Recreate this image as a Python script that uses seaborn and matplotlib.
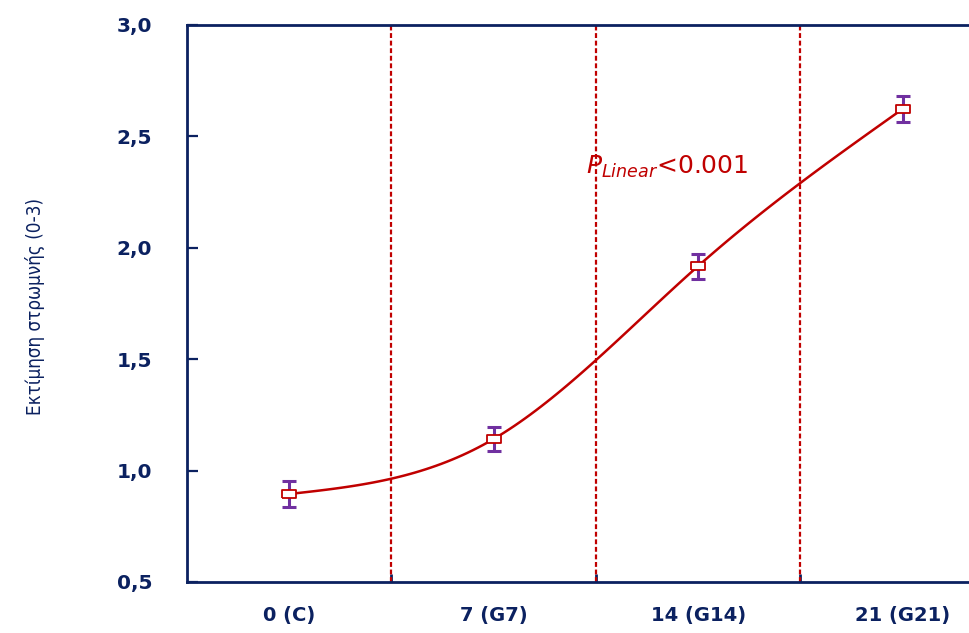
import numpy as np
import pandas as pd
import matplotlib
matplotlib.use("Agg")
import matplotlib.pyplot as plt
import seaborn as sns

categories = ["0 (C)", "7 (G7)", "14 (G14)", "21 (G21)"]
means = [0.895, 1.142, 1.918, 2.623]
errors = [0.057, 0.055, 0.056, 0.058]
y_ticks = [0.5, 1.0, 1.5, 2.0, 2.5, 3.0]
y_tick_labels = ["0,5", "1,0", "1,5", "2,0", "2,5", "3,0"]
ylabel = "Εκτίμηση στρωμνής (0-3)"
annot = r"$P_{Linear}$<0.001"

NAVY = "#0B2160"
RED = "#C00000"
PURPLE = "#7030A0"

sns.set_theme(style="white")
plt.rcParams["font.family"] = ["DejaVu Sans"]
plt.rcParams["mathtext.fontset"] = "dejavusans"

fig = plt.figure(figsize=(9.70, 6.33), dpi=100)
ax = fig.add_axes([187 / 970, 1 - 582 / 633, (968 - 187) / 970, (582 - 25) / 633])

x = np.arange(len(categories), dtype=float)
y = np.array(means)

# natural cubic spline for smooth line rendering
n = len(x)
h = 1.0
A = np.zeros((n, n))
b = np.zeros(n)
A[0, 0] = 1
A[-1, -1] = 1
for i in range(1, n - 1):
    A[i, i - 1] = h
    A[i, i] = 4 * h
    A[i, i + 1] = h
    b[i] = 6 * (y[i + 1] - 2 * y[i] + y[i - 1]) / h
M = np.linalg.solve(A, b)
xs, ys = [], []
for i in range(n - 1):
    t = np.linspace(0, 1, 40)
    xx = x[i] + t
    a = (x[i + 1] - xx)
    c = (xx - x[i])
    yy = (M[i] * a ** 3 + M[i + 1] * c ** 3) / 6 + (y[i] - M[i] / 6) * a + (y[i + 1] - M[i + 1] / 6) * c
    xs.extend(xx)
    ys.extend(yy)
curve = pd.DataFrame({"x": xs, "y": ys})

# boundaries
for bx in [0.5, 1.5, 2.5]:
    ax.axvline(bx, color=RED, lw=1.6, ls=(0, (2.2, 1.2)), zorder=1)

sns.lineplot(data=curve, x="x", y="y", color=RED, lw=1.8, ax=ax, zorder=3, sort=False)
ax.errorbar(x, y, yerr=errors, fmt="none", ecolor=PURPLE, elinewidth=2.2,
            capsize=5, capthick=2.2, zorder=2)
rect = [(-1.6, -1), (1.6, -1), (1.6, 1), (-1.6, 1), (-1.6, -1)]
ax.plot(x, y, ls="none", marker=rect, markersize=9.5, markerfacecolor="white",
        markeredgecolor=RED, markeredgewidth=1.3, zorder=4)

ax.set_xlim(-0.5, 3.32)
ax.set_ylim(0.5, 3.0)
ax.set_yticks(y_ticks)
ax.set_yticklabels(y_tick_labels)
ax.set_xticks(x)
ax.set_xticklabels(categories)
ax.set_xticks([0.5, 1.5, 2.5], minor=True)
ax.tick_params(axis="x", which="major", length=0, pad=17, labelsize=14, labelcolor=NAVY)
ax.tick_params(axis="x", which="minor", direction="in", length=6, width=2, color=NAVY, bottom=True)
ax.tick_params(axis="y", which="major", direction="in", length=8, width=1.6, color=NAVY,
               pad=25, labelsize=14.5, labelcolor=NAVY, left=True)
for lab in ax.get_xticklabels() + ax.get_yticklabels():
    lab.set_fontweight("bold")

for s in ["left", "top", "bottom"]:
    ax.spines[s].set_color(NAVY)
    ax.spines[s].set_linewidth(2.0)
ax.spines["right"].set_visible(False)
ax.set_xlabel("")
ax.set_ylabel(ylabel, fontsize=13.5, color=NAVY, fontstretch="condensed")
ax.yaxis.set_label_coords(-0.182, 0.494)

ax.text(1.45, 2.33, annot, color=RED, fontsize=18, ha="left", va="baseline")

fig.savefig("out.png", dpi=100)
